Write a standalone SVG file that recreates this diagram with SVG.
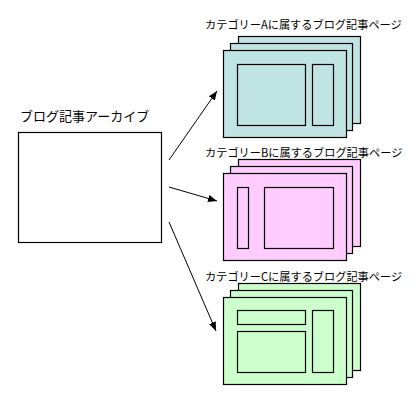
<svg xmlns="http://www.w3.org/2000/svg" width="416" height="406" viewBox="0 0 416 406">
<style>
text{font-family:"Noto Sans CJK JP","Liberation Sans",sans-serif;fill:#000}
.lbl{font-size:11.2px}
.ttl{font-size:13px}
.box{stroke:#000;stroke-width:1.2}
.a{fill:#C0E4E4}.b{fill:#FFCCFF}.c{fill:#CCFFCC}
.con{stroke:#000;stroke-width:1;fill:none;marker-end:url(#ah)}
</style>
<defs>
<marker id="ah" viewBox="0 0 10 10" refX="10" refY="5" markerWidth="9" markerHeight="9" markerUnits="userSpaceOnUse" orient="auto">
<path d="M0,1 L10,5 L0,9 Z" fill="#000"/>
</marker>
</defs>
<g id="archive">
<text class="ttl" x="20" y="121">ブログ記事アーカイブ</text>
<rect class="box" x="18.5" y="132.5" width="143" height="110" fill="#fff"/>
</g>
<g id="catA">
<text class="lbl" x="205" y="29">カテゴリーAに属するブログ記事ページ</text>
<rect class="box a" x="238.5" y="36.5" width="122" height="87"/>
<rect class="box a" x="230.5" y="43.5" width="122" height="87"/>
<rect class="box a" x="223.5" y="50.5" width="123" height="87"/>
<rect class="box a" x="237.5" y="64.5" width="68" height="61"/>
<rect class="box a" x="312.5" y="64.5" width="21" height="61"/>
</g>
<g id="catB">
<text class="lbl" x="205" y="157">カテゴリーBに属するブログ記事ページ</text>
<rect class="box b" x="238.5" y="159.5" width="122" height="87"/>
<rect class="box b" x="230.5" y="166.5" width="122" height="87"/>
<rect class="box b" x="223.5" y="173.5" width="123" height="87"/>
<rect class="box b" x="237.5" y="187.5" width="11" height="61"/>
<rect class="box b" x="264.5" y="187.5" width="69" height="61"/>
</g>
<g id="catC">
<text class="lbl" x="205" y="281">カテゴリーCに属するブログ記事ページ</text>
<rect class="box c" x="238.5" y="283.5" width="122" height="87"/>
<rect class="box c" x="230.5" y="290.5" width="122" height="87"/>
<rect class="box c" x="223.5" y="297.5" width="123" height="87"/>
<rect class="box c" x="237.5" y="310.5" width="68" height="14"/>
<rect class="box c" x="237.5" y="331.5" width="68" height="41"/>
<rect class="box c" x="312.5" y="310.5" width="21" height="62"/>
</g>
<g id="connectors">
<line class="con" x1="169" y1="160" x2="217" y2="91"/>
<line class="con" x1="169" y1="187" x2="217" y2="201"/>
<line class="con" x1="169" y1="222" x2="216" y2="331"/>
</g>
</svg>
